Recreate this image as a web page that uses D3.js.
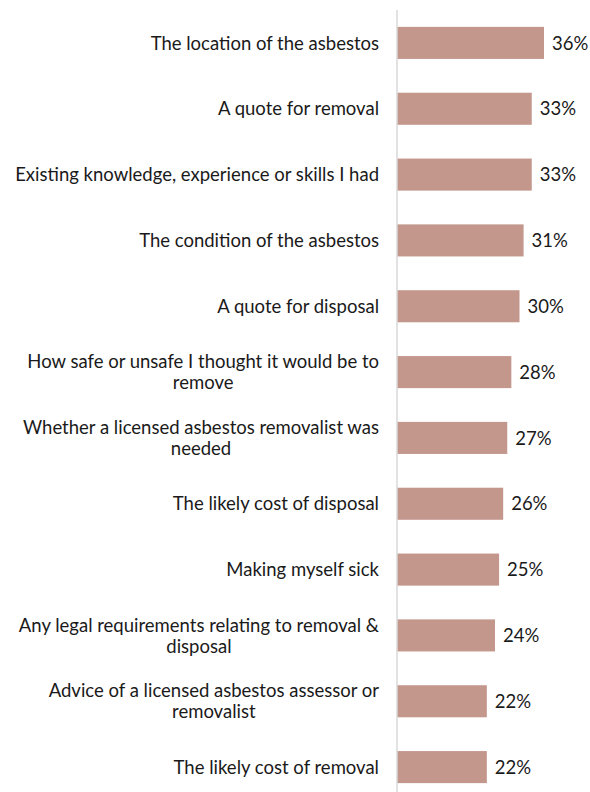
<!DOCTYPE html>
<html>
<head>
<meta charset="utf-8">
<script src="https://cdn.jsdelivr.net/npm/d3@7"></script>
<style>
  html, body { margin: 0; padding: 0; background: #fff; }
  svg { display: block; font-family: Lato, "Open Sans", sans-serif; }
</style>
</head>
<body>
<svg id="chart" width="590" height="792"></svg>
<script>
// Factors considered (each label split into its displayed lines)
const categories = [
  ["The location of the asbestos"],
  ["A quote for removal"],
  ["Existing knowledge, experience or skills I had"],
  ["The condition of the asbestos"],
  ["A quote for disposal"],
  ["How safe or unsafe I thought it would be to", "remove"],
  ["Whether a licensed asbestos removalist was", "needed"],
  ["The likely cost of disposal"],
  ["Making myself sick"],
  ["Any legal requirements relating to removal &", "disposal"],
  ["Advice of a licensed asbestos assessor or", "removalist"],
  ["The likely cost of removal"]
];
const values = [36, 33, 33, 31, 30, 28, 27, 26, 25, 24, 22, 22];

const svg = d3.select("#chart");
const axisX = 397;
const fontSize = 18.5;

const y = d3.scaleBand()
  .domain(d3.range(categories.length))
  .range([10, 800])
  .paddingInner(0.513)
  .paddingOuter(0.2565);

const x = d3.scaleLinear()
  .domain([0, 36])
  .range([axisX, 544]);

// bars
svg.append("g").selectAll("rect")
  .data(values)
  .join("rect")
  .attr("x", x(0))
  .attr("y", (d, i) => y(i))
  .attr("width", d => x(d) - x(0))
  .attr("height", y.bandwidth())
  .attr("fill", "#c4978d");

// vertical category axis line
svg.append("line")
  .attr("x1", axisX).attr("x2", axisX)
  .attr("y1", 10).attr("y2", 792)
  .attr("stroke", "#d9d9d9")
  .attr("stroke-width", 1.5);

// value labels
svg.append("g").selectAll("text")
  .data(values)
  .join("text")
  .attr("x", d => x(d) + 8)
  .attr("y", (d, i) => y(i) + y.bandwidth() / 2)
  .attr("dy", "0.36em")
  .attr("font-size", fontSize)
  .attr("fill", "#1a1a1a")
  .text(d => d + "%");

// category labels, right aligned against the axis
const lineH = 21;
const labels = svg.append("g").selectAll("text")
  .data(categories)
  .join("text")
  .attr("text-anchor", "middle")
  .attr("font-size", fontSize)
  .attr("fill", "#1a1a1a");

labels.each(function(lines, i) {
  const t = d3.select(this);
  const cy = y(i) + y.bandwidth() / 2;
  const y0 = cy - (lines.length - 1) * lineH / 2;
  if (lines.length === 1) {
    t.attr("text-anchor", "end")
      .append("tspan")
      .attr("x", 379)
      .attr("y", y0)
      .attr("dy", "0.36em")
      .text(lines[0]);
  } else {
    // multi-line labels: lines centered on the widest line, which ends at the axis gap
    const tmp = t.append("tspan").text(lines[0]);
    const w = tmp.node().getComputedTextLength();
    tmp.remove();
    const cx = 379 - w / 2;
    lines.forEach((ln, k) => {
      t.append("tspan")
        .attr("x", cx)
        .attr("y", y0 + k * lineH)
        .attr("dy", "0.36em")
        .text(ln);
    });
  }
});
</script>
</body>
</html>
